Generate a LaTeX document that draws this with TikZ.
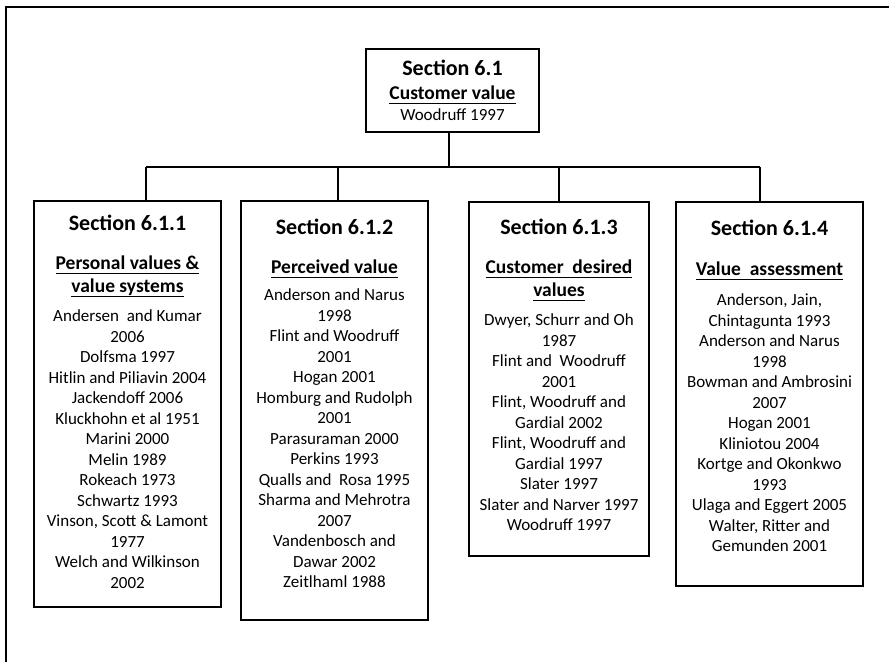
\documentclass[tikz,border=0pt]{standalone}
\usepackage{fontspec}
\setmainfont{Carlito}
\newcommand{\uln}[1]{\setbox0\hbox{#1}\rlap{\vrule height -3.4pt depth 5pt width \wd0}\box0}

\begin{document}
\begin{tikzpicture}[x=1pt, y=-1pt,
        secbox/.style={draw, line width=2.6pt, inner sep=0pt, minimum width=187pt},
        head/.style={font={\bfseries\fontsize{22}{26}\selectfont}},
        topic/.style={font={\bfseries\fontsize{19.5}{23}\selectfont}, align=center, anchor=north, inner sep=0pt},
        refs/.style={font={\fontsize{17}{20.5}\selectfont}, align=center, anchor=north, inner sep=0pt},
        link/.style={-, line width=2.2pt},
        frame/.style={-, line width=2pt}
    ]
    \useasboundingbox (0,0) rectangle (889,662);

    % Outer frame (top and left only)
    \draw[frame] (6,662) -- (6,7) -- (889,7);

    % Top section
    \node[secbox, minimum width=173pt, minimum height=83pt] (sec) at (452.5, 90.5) {};
    \node[head] (sec_head) at (452.5, 68) {Section 6.1};
    \node[topic] (sec_topic) at (452.5, 85.6) {\uln{Customer value}};
    \node[refs, anchor=center] (sec_refs) at (452.5, 115) {Woodruff 1997};

    % Section 6.1.1
    \node[secbox, minimum height=406pt] (s1) at (127.5, 404) {};
    \node[head] (s1_head) at (127.5, 223) {Section 6.1.1};
    \node[topic] (s1_topic) at (127.5, 255.6) {\uln{Personal values \&}\\\uln{value systems}};
    \node[refs] (s1_refs) at (127.5, 309.5) {Andersen~ and Kumar\\2006\\Dolfsma 1997\\Hitlin and Piliavin 2004\\Jackendoff 2006\\Kluckhohn et al 1951\\Marini 2000\\Melin 1989\\Rokeach 1973\\Schwartz 1993\\Vinson, Scott \& Lamont\\1977\\Welch and Wilkinson\\2002};

    % Section 6.1.2
    \node[secbox, minimum height=419pt] (s2) at (334.5, 410.5) {};
    \node[head] (s2_head) at (334.5, 227) {Section 6.1.2};
    \node[topic] (s2_topic) at (334.5, 259.6) {\uln{Perceived value}};
    \node[refs] (s2_refs) at (334.5, 288.5) {Anderson and Narus\\1998\\Flint and Woodruff\\2001\\Hogan 2001\\Homburg and Rudolph\\2001\\Parasuraman 2000\\Perkins 1993\\Qualls and~ Rosa 1995\\Sharma and Mehrotra\\2007\\Vandenbosch and\\Dawar 2002\\Zeitlhaml 1988};

    % Section 6.1.3
    \node[secbox, minimum width=180pt, minimum height=354pt] (s3) at (559, 379) {};
    \node[head] (s3_head) at (559, 227) {Section 6.1.3};
    \node[topic] (s3_topic) at (559, 259.6) {\uln{Customer~ desired}\\\uln{values}};
    \node[refs] (s3_refs) at (559, 313.5) {Dwyer, Schurr and Oh\\1987\\Flint and~ Woodruff\\2001\\Flint, Woodruff and\\Gardial 2002\\Flint, Woodruff and\\Gardial 1997\\Slater 1997\\Slater and Narver 1997\\Woodruff 1997};

    % Section 6.1.4
    \node[secbox, minimum height=384pt] (s4) at (769.5, 394) {};
    \node[head] (s4_head) at (769.5, 228) {Section 6.1.4};
    \node[topic] (s4_topic) at (769.5, 261.6) {\uln{Value~ assessment}};
    \node[refs] (s4_refs) at (769.5, 293.5) {Anderson, Jain,\\Chintagunta 1993\\Anderson and Narus\\1998\\Bowman and Ambrosini\\2007\\Hogan 2001\\Kliniotou 2004\\Kortge and Okonkwo\\1993\\Ulaga and Eggert 2005\\Walter, Ritter and\\Gemunden 2001};

    % Connectors
    \coordinate (stem) at (449, 167);
    \coordinate (bus1) at (146, 167);
    \coordinate (bus2) at (338, 167);
    \coordinate (bus3) at (559, 167);
    \coordinate (bus4) at (760, 167);
    \draw[link] (stem |- sec.south) -- (stem);
    \draw[link] (bus1) -- (bus4);
    \draw[link] (bus1) -- (bus1 |- s1.north);
    \draw[link] (bus2) -- (bus2 |- s2.north);
    \draw[link] (bus3) -- (bus3 |- s3.north);
    \draw[link] (bus4) -- (bus4 |- s4.north);

\end{tikzpicture}
\end{document}
